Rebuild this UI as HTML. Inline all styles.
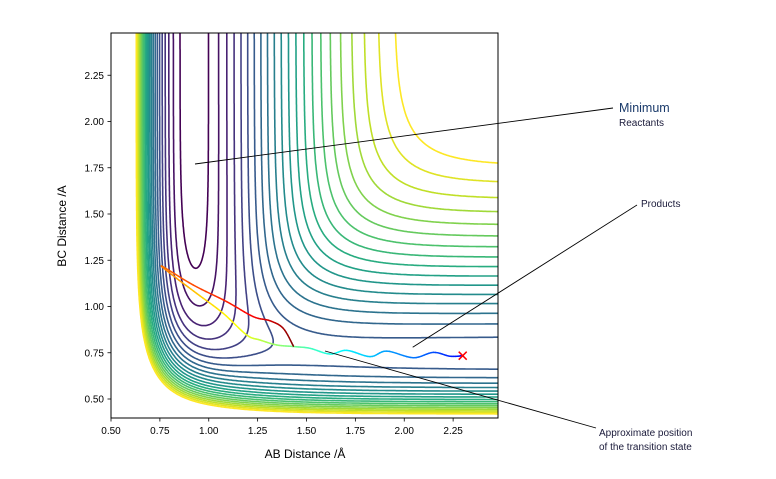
<!DOCTYPE html>
<html><head><meta charset="utf-8"><title>LEPS contour plot</title>
<style>
html,body{margin:0;padding:0;background:#fff;}
svg{display:block;font-family:"Liberation Sans","DejaVu Sans",sans-serif;}
.tick{font-size:10px;fill:#000;}
</style></head>
<body>
<svg id="chart" width="776" height="479" viewBox="0 0 776 479">
  <defs><clipPath id="plotclip"><rect x="111" y="33" width="387" height="385"/></clipPath></defs>
  <rect x="0" y="0" width="776" height="479" fill="#fff"/>
  <g id="contours" clip-path="url(#plotclip)"></g>
  <g id="traj" clip-path="url(#plotclip)"></g>
  <g id="axes"></g>
  <rect x="111" y="33" width="387" height="385" fill="none" stroke="#000" stroke-width="1"/>
  <text x="305" y="458" text-anchor="middle" font-size="12">AB Distance /Å</text>
  <text x="0" y="0" transform="translate(66,226) rotate(-90)" text-anchor="middle" font-size="12">BC Distance /A</text>

  <line x1="195" y1="164" x2="613" y2="108" stroke="#000" stroke-width="0.9"/>
  <text x="619" y="112" font-size="12.5" fill="#1a3a6a">Minimum</text>
  <text x="619" y="126" font-size="10" fill="#1a1a3a">Reactants</text>
  <line x1="412.7" y1="347.3" x2="637" y2="205" stroke="#000" stroke-width="0.9"/>
  <text x="641" y="207" font-size="10" fill="#1a1a3a">Products</text>
  <line x1="325" y1="351" x2="596" y2="428" stroke="#000" stroke-width="0.9"/>
  <text x="599" y="436" font-size="10" fill="#1a1a3a">Approximate position</text>
  <text x="599" y="450" font-size="10" fill="#1a1a3a">of the transition state</text>
</svg>
<script>
// ---- data ----
const xTicks = [0.50, 0.75, 1.00, 1.25, 1.50, 1.75, 2.00, 2.25];
const xTickLabels = ["0.50","0.75","1.00","1.25","1.50","1.75","2.00","2.25"];
const yTicks = [0.50, 0.75, 1.00, 1.25, 1.50, 1.75, 2.00, 2.25];
const yTickLabels = ["0.50","0.75","1.00","1.25","1.50","1.75","2.00","2.25"];
const contourLevels = [-5.967,-5.741,-5.514,-5.288,-5.061,-4.835,-4.609,-4.382,-4.156,-3.929,-3.703,-3.476,-3.250,-3.023,-2.797,-2.571,-2.344,-2.118,-1.891,-1.665,-1.438,-1.212];
const morseDepth = [6.12, 4.75, 6.12];
const morseAlpha = [2.2, 1.94, 2.2];
const morseRe = [0.92, 0.74, 0.92];
const satoDelta = [0.15, 0.21, 0.21];
const trajAB = [2.299,2.234,2.149,2.046,1.910,1.825,1.706,1.620,1.518,1.441,1.348,1.262,1.194,1.074,0.938,0.836,0.759,0.921,1.092,1.228,1.313,1.381,1.433];
const trajBC = [0.734,0.731,0.752,0.723,0.759,0.729,0.763,0.743,0.774,0.783,0.792,0.819,0.846,0.963,1.071,1.152,1.219,1.116,1.026,0.945,0.923,0.882,0.786];

// ---- axes ----
const X = v => 111 + (v - 0.5) * 195.5;
const Y = v => 399 - (v - 0.5) * 185;
const NS = "http://www.w3.org/2000/svg";
const axes = document.getElementById('axes');
function mk(tag, attrs, parent){const e=document.createElementNS(NS,tag);for(const k in attrs)e.setAttribute(k,attrs[k]);parent.appendChild(e);return e;}

xTicks.forEach((t,i)=>{
  const l=mk('line',{x1:X(t),x2:X(t),y1:418,y2:421.5,stroke:'#000','stroke-width':0.8},axes);
  
  
  const tx=mk('text',{x:X(t),y:434,'text-anchor':'middle',class:'tick'},axes);
  tx.textContent=xTickLabels[i];
  
  
});
yTicks.forEach((t,i)=>{
  const l=mk('line',{x1:107.5,x2:111,y1:Y(t),y2:Y(t),stroke:'#000','stroke-width':0.8},axes);
  
  
  const tx=mk('text',{x:104,y:Y(t)+3.5,'text-anchor':'end',class:'tick'},axes);
  tx.textContent=yTickLabels[i];
  
  
});

// ---- potential surface ----
function QJ(i,r){
  const x=r-morseRe[i], e1=Math.exp(-morseAlpha[i]*x), e2=e1*e1, d=satoDelta[i];
  const c=morseDepth[i]/(4*(1+d));
  return [c*((3+d)*e2-(2+6*d)*e1), c*((1+3*d)*e2-(6+2*d)*e1)];
}
function V(ab,bc){
  const a=QJ(0,ab), b=QJ(1,bc), c=QJ(2,ab+bc);
  return a[0]+b[0]+c[0]-Math.sqrt(0.5*((a[1]-b[1])**2+(b[1]-c[1])**2+(c[1]-a[1])**2));
}
const N=340, x0=0.48, x1=2.5, y0=0.38, y1=2.5;
const gx=[],gy=[],G=[];
for(let i=0;i<=N;i++){gx.push(x0+(x1-x0)*i/N);gy.push(y0+(y1-y0)*i/N);}
for(let i=0;i<=N;i++){const row=[];for(let j=0;j<=N;j++)row.push(V(gx[i],gy[j]));G.push(row);}

const vir=[[68,1,84],[72,36,117],[65,68,135],[53,95,141],[42,120,142],[33,145,140],[34,168,132],[68,191,112],[122,209,81],[189,223,38],[253,231,37]];
function viridis(t){t=Math.max(0,Math.min(1,t))*10;const k=Math.min(9,Math.floor(t)),f=t-k;const a=vir[k],b=vir[k+1];return 'rgb('+a.map((v,m)=>Math.round(v+(b[m]-v)*f)).join(',')+')';}
const table={1:[[3,0]],2:[[0,1]],3:[[3,1]],4:[[1,2]],5:[[3,2],[0,1]],6:[[0,2]],7:[[3,2]],8:[[2,3]],9:[[0,2]],10:[[0,3],[1,2]],11:[[1,2]],12:[[1,3]],13:[[0,1]],14:[[0,3]]};
const cg=document.getElementById('contours');
contourLevels.forEach((L,n)=>{
  let d='';
  for(let i=0;i<N;i++)for(let j=0;j<N;j++){
    const c0=G[i][j],c1=G[i+1][j],c2=G[i+1][j+1],c3=G[i][j+1];
    const idx=(c0>L?1:0)|(c1>L?2:0)|(c2>L?4:0)|(c3>L?8:0);
    const segs=table[idx]; if(!segs)continue;
    const pt=e=>{
      let ax,ay,bx,by,va,vb;
      if(e===0){ax=gx[i];ay=gy[j];bx=gx[i+1];by=gy[j];va=c0;vb=c1;}
      else if(e===1){ax=gx[i+1];ay=gy[j];bx=gx[i+1];by=gy[j+1];va=c1;vb=c2;}
      else if(e===2){ax=gx[i+1];ay=gy[j+1];bx=gx[i];by=gy[j+1];va=c2;vb=c3;}
      else {ax=gx[i];ay=gy[j+1];bx=gx[i];by=gy[j];va=c3;vb=c0;}
      const f=(L-va)/(vb-va);
      return [X(ax+(bx-ax)*f).toFixed(1),Y(ay+(by-ay)*f).toFixed(1)];
    };
    segs.forEach(s=>{const p=pt(s[0]),q=pt(s[1]);d+='M'+p[0]+' '+p[1]+'L'+q[0]+' '+q[1];});
  }
  const p=mk('path',{d:d,fill:'none',stroke:viridis(n/(contourLevels.length-1)),'stroke-width':1.6,'stroke-linecap':'round'},cg);
  
  
});

// ---- trajectory ----
function jet(t){const c=v=>Math.round(255*Math.max(0,Math.min(1,v)));return 'rgb('+c(1.5-Math.abs(4*t-3))+','+c(1.5-Math.abs(4*t-2))+','+c(1.5-Math.abs(4*t-1))+')';}
const tg=document.getElementById('traj');
const P=trajAB.map((a,k)=>[X(a),Y(trajBC[k])]);
const pts=[];
for(let k=0;k<P.length-1;k++){
  const p0=P[Math.max(0,k-1)],p1=P[k],p2=P[k+1],p3=P[Math.min(P.length-1,k+2)];
  for(let s=0;s<8;s++){const t=s/8,t2=t*t,t3=t2*t;
    pts.push([0,1].map(m=>0.5*((2*p1[m])+(-p0[m]+p2[m])*t+(2*p0[m]-5*p1[m]+4*p2[m]-p3[m])*t2+(-p0[m]+3*p1[m]-3*p2[m]+p3[m])*t3)));}
}
pts.push(P[P.length-1]);
for(let k=0;k<pts.length-1;k++){
  const l=mk('line',{x1:pts[k][0],y1:pts[k][1],x2:pts[k+1][0],y2:pts[k+1][1],stroke:jet(0.12+0.88*k/(pts.length-2)),'stroke-width':1.5,'stroke-linecap':'round'},tg);
  
  
}
const sx=X(trajAB[0]),sy=Y(trajBC[0]);
const mx=mk('path',{d:`M${sx-4} ${sy-4}L${sx+4} ${sy+4}M${sx-4} ${sy+4}L${sx+4} ${sy-4}`,stroke:'#ff0000','stroke-width':1.5,fill:'none'},tg);


</script>
</body></html>
